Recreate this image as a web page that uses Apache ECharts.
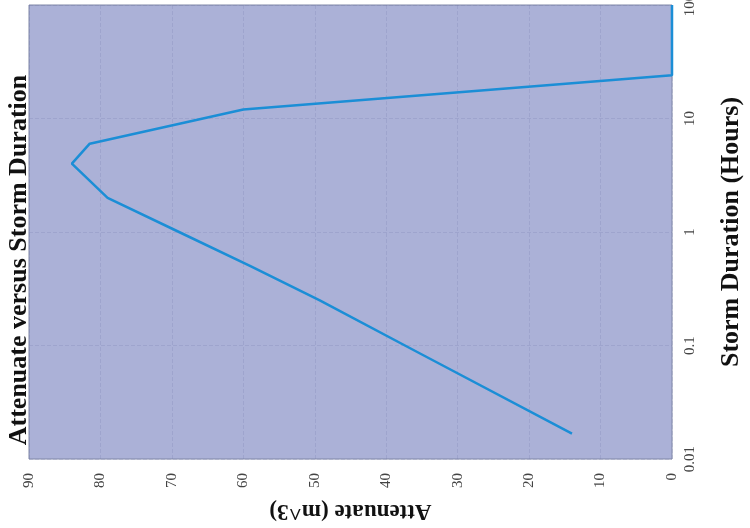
<!DOCTYPE html>
<html>
<head>
<meta charset="utf-8">
<script src="https://cdn.jsdelivr.net/npm/echarts@6/dist/echarts.min.js"></script>
<style>html,body{margin:0;padding:0;background:#fff;}#c{width:750px;height:528px;}</style>
</head>
<body>
<div id="c"></div>
<script>
// Storm duration (hours) and attenuate volume (m^3)
var durations = [0.0167, 0.0833, 0.25, 0.5, 1, 2, 4, 6, 12, 24, 100];
var attenuate = [14, 35, 49.3, 59, 69, 79, 84, 81.5, 60, 0, 0];
var attTicks = [0, 10, 20, 30, 40, 50, 60, 70, 80, 90];
var durTicks = [0.01, 0.1, 1, 10, 100];
var titleText = 'Attenuate versus Storm Duration';
var xName = 'Attenuate (m^3)';
var yName = 'Storm Duration (Hours)';

var pts = durations.map(function (d, i) { return [attenuate[i], d]; });
var chart = echarts.init(document.getElementById('c'));
var serif = '"Liberation Serif", "DejaVu Serif", serif';
chart.setOption({
  animation: false,
  backgroundColor: '#ffffff',
  grid: { left: 29, right: 78, top: 5, bottom: 69, outerBoundsMode: 'none', containLabel: false,
    show: true, backgroundColor: '#abb1d7', borderColor: '#7f86a6', borderWidth: 1 },
  xAxis: {
    type: 'value', min: 0, max: 90, interval: 10, inverse: true, position: 'bottom',
    axisLine: { show: false }, axisTick: { show: false },
    splitLine: { show: true, lineStyle: { color: 'rgba(110,115,165,0.2)', type: 'dashed', width: 1 } },
    axisLabel: { rotate: 90, fontFamily: serif, fontSize: 15, color: '#444', margin: 14 },
    name: xName, nameLocation: 'middle', nameRotate: 180, nameGap: 40,
    nameTextStyle: { fontFamily: serif, fontSize: 23, fontWeight: 'bold', color: '#111' }
  },
  yAxis: {
    type: 'log', logBase: 10, min: 0.01, max: 100, position: 'right',
    axisLine: { show: false }, axisTick: { show: false },
    splitLine: { show: true, lineStyle: { color: 'rgba(110,115,165,0.2)', type: 'dashed', width: 1 } },
    axisLabel: { rotate: 90, fontFamily: serif, fontSize: 15, color: '#444', margin: 11,
      formatter: function (v) { return String(durTicks.reduce(function (a, b) { return Math.abs(Math.log10(b) - Math.log10(v)) < Math.abs(Math.log10(a) - Math.log10(v)) ? b : a; })); } },
    name: yName, nameLocation: 'middle', nameRotate: 90, nameGap: 46,
    nameTextStyle: { fontFamily: serif, fontSize: 26, fontWeight: 'bold', color: '#111' }
  },
  graphic: [{
    type: 'text', x: 19, y: 260, rotation: Math.PI / 2,
    style: { text: titleText, fontFamily: serif, fontSize: 26, fontWeight: 'bold', fill: '#111', align: 'center', verticalAlign: 'middle' }
  }],
  series: [{
    type: 'line', data: pts, showSymbol: false, symbol: 'none',
    lineStyle: { color: '#1b8ed6', width: 2.5 }
  }]
});
</script>
</body>
</html>
